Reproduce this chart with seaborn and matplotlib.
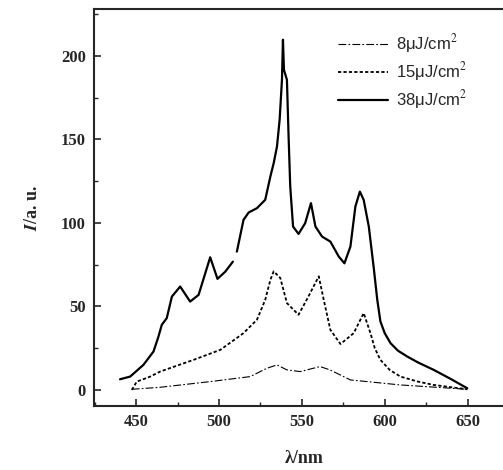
import numpy as np
import pandas as pd
import matplotlib
matplotlib.use("Agg")
import matplotlib.pyplot as plt
import seaborn as sns
from matplotlib.ticker import MultipleLocator
from matplotlib.lines import Line2D

# ---- data ----
wl_38 = [440.3, 446.4, 454.4, 460.5, 463.5, 465.5, 468.5, 471.6, 476.6, 482.6, 487.7, 494.7,
         499.1, 503.8, 508.4,
         510.8, 514.8, 517.9, 522.9, 527.9, 531.0, 533.0, 535.0, 536.6, 538.0, 538.6, 539.2,
         541.0, 542.0, 543.0, 544.7, 548.0, 552.0, 555.5, 558.2, 562.2, 567.2, 572.3, 575.7,
         579.3, 582.3, 585.0, 587.3, 590.4, 593.4, 595.5, 597.4, 600.0, 603.5, 608.0, 613.6,
         620.0, 629.6, 640.0, 649.8]
I_38 = [6.4, 8.0, 15.0, 23.0, 32.0, 39.0, 43.0, 55.9, 61.9, 52.9, 56.9, 79.4,
        66.5, 70.8, 76.8,
        82.8, 101.8, 106.2, 108.8, 113.8, 127.7, 135.7, 145.7, 161.7, 185.6, 209.6, 191.6,
        185.6, 151.7, 121.7, 97.8, 93.4, 99.8, 111.8, 97.8, 91.8, 88.8, 79.8, 75.8,
        85.8, 109.8, 118.7, 113.8, 97.8, 72.9, 54.0, 41.0, 34.0, 28.0, 23.5, 20.0,
        16.5, 12.0, 6.5, 1.0]
seg_38 = [0] * 15 + [1] * 40

wl_15 = [447.4, 450.4, 458.5, 464.5, 484.6, 500.8, 514.8, 522.9, 527.9, 531.0, 533.0, 537.0,
         541.0, 548.0, 554.0, 560.2, 563.2, 567.2, 573.3, 581.3, 587.3, 591.4, 594.0, 597.4,
         603.0, 609.5, 620.0, 629.6, 649.8]
I_15 = [0.0, 5.0, 8.0, 11.0, 18.0, 24.0, 34.0, 42.0, 53.9, 65.9, 71.0, 67.0,
        52.0, 45.0, 56.0, 68.0, 54.0, 36.0, 27.5, 34.0, 46.0, 34.0, 25.0, 18.0,
        12.0, 8.0, 5.0, 3.0, 0.4]

wl_8 = [447.4, 464.5, 494.7, 518.9, 526.9, 529.0, 535.0, 541.0, 549.0, 561.0, 567.0, 579.3,
        609.5, 649.8]
I_8 = [0.4, 1.6, 5.0, 8.0, 12.0, 13.0, 15.0, 12.0, 11.0, 14.0, 12.0, 6.0,
       3.0, 0.4]

labels = ["8μJ/cm$^2$", "15μJ/cm$^2$", "38μJ/cm$^2$"]
xticks = [450, 500, 550, 600, 650]
yticks = [0, 50, 100, 150, 200]

df38 = pd.DataFrame({"wl": wl_38, "I": I_38, "seg": seg_38})
df15 = pd.DataFrame({"wl": wl_15, "I": I_15})
df8 = pd.DataFrame({"wl": wl_8, "I": I_8})

sns.set_style("ticks")
plt.rcParams["font.family"] = ["Liberation Serif", "DejaVu Serif"]
plt.rcParams["mathtext.fontset"] = "stix"

fig = plt.figure(figsize=(5.03, 4.70), dpi=100)
ax = fig.add_axes([94 / 503, 1 - 406 / 470, 420 / 503, (406 - 9) / 470])

ls8 = (0, (7, 2, 1.5, 2))
ls15 = (0, (1.8, 1.2))
sns.lineplot(data=df8, x="wl", y="I", ax=ax, color="black", lw=0.8, sort=False,
             linestyle=ls8)
sns.lineplot(data=df15, x="wl", y="I", ax=ax, color="black", lw=1.3, sort=False,
             linestyle=ls15)
sns.lineplot(data=df38, x="wl", y="I", units="seg", estimator=None, ax=ax,
             color="black", lw=1.6, sort=False)

handles = [Line2D([], [], color="black", lw=0.8, linestyle=ls8),
           Line2D([], [], color="black", lw=1.3, linestyle=ls15),
           Line2D([], [], color="black", lw=1.6)]
ax.legend(handles, labels, loc="upper left", bbox_to_anchor=(0.545, 0.98),
          frameon=False, handlelength=3.0, handletextpad=0.5, labelspacing=0.3,
          prop={"family": "Liberation Sans", "size": 12})

ax.set_xlim(424.6, 678)
ax.set_ylim(-9.6, 228)
ax.set_xticks(xticks)
ax.set_yticks(yticks)
ax.xaxis.set_minor_locator(MultipleLocator(25))
ax.yaxis.set_minor_locator(MultipleLocator(25))
ax.tick_params(axis="both", which="major", direction="in", length=5, width=1.2,
               labelsize=12, pad=6)
ax.tick_params(axis="both", which="minor", direction="in", length=3, width=1.0)
for lab in ax.get_xticklabels() + ax.get_yticklabels():
    lab.set_fontweight("bold")
for sp in ax.spines.values():
    sp.set_linewidth(1.5)
    sp.set_visible(True)

ax.set_xlabel("λ/nm", fontsize=13, fontweight="bold", labelpad=14)
ax.set_ylabel(r"$\mathbfit{I}$/a. u.", fontsize=13, fontweight="bold", labelpad=14)

fig.savefig("out.png", dpi=100)
